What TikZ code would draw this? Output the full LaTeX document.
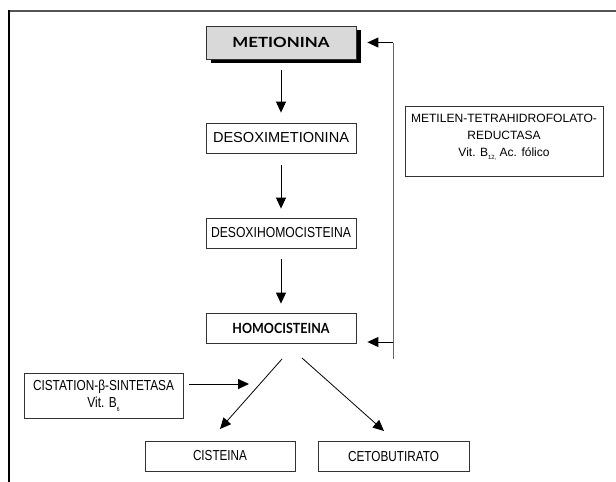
\documentclass[tikz,border=0pt]{standalone}
\usepackage{fontspec}
\usepackage{graphicx}
\setmainfont{Liberation Sans}
\newfontfamily\narrowf[FakeStretch=0.82]{Liberation Sans}
\newfontfamily\boldf{Lato}
\usetikzlibrary{arrows.meta,calc,shadows}
\definecolor{boxc}{HTML}{333333}
\definecolor{framec}{HTML}{555555}
\definecolor{fillc}{HTML}{D9D9D9}
\definecolor{fbc}{HTML}{666666}
\newcommand\lowsub[1]{\raisebox{-0.3em}{\fontsize{6}{6}\selectfont #1}}
\newcommand\fitw[2]{\resizebox{#1}{\height}{#2}}
\begin{document}
\begin{tikzpicture}[x=1pt,y=-1pt,
  box/.style={draw=boxc, line width=0.8pt, minimum width=150pt, minimum height=30pt,
    inner sep=0pt, font=\narrowf\fontsize{14.5}{17}\selectfont, align=center},
  mainbox/.style={box, font=\boldf\bfseries\fontsize{14}{17}\selectfont},
  arr/.style={line width=1pt, -{Triangle[length=11pt,width=10pt]}},
  fbline/.style={draw=fbc, line width=1pt},
]
\useasboundingbox (0,0) rectangle (616,482);
% frame
\draw[framec, line width=2pt] (8,11) -- (616,11);
\draw[black, line width=1.8pt] (9,10) -- (9,482);

% nodes
\node[mainbox, fill=fillc, minimum height=33pt,
  drop shadow={shadow xshift=5pt, shadow yshift=-4pt, fill=black, opacity=1}]
  (met) at (281,42.5) {\fitw{97pt}{METIONINA}};
\node[box] (desm) at (281,138) {\fitw{136pt}{DESOXIMETIONINA}};
\node[box] (desh) at (281,233) {\fitw{140pt}{DESOXIHOMOCISTEINA}};
\node[mainbox] (homo) at (281,328) {\fitw{97pt}{HOMOCISTEINA}};
\node[box, minimum width=198pt, minimum height=70pt,
  font=\fontsize{12}{17}\selectfont] (mthfr) at (504,141)
  {\fitw{186pt}{METILEN-TETRAHIDROFOLATO-}\\REDUCTASA\\Vit. B\lowsub{12,} Ac. fólico\rule[-12pt]{0pt}{12pt}};
\node[box, minimum width=159pt, minimum height=45pt] (cist) at (103.5,395.5)
  {\fitw{141pt}{CISTATION-β-SINTETASA}\\Vit. B\lowsub{6}};
\node[box] (cis) at (220,456) {\fitw{54pt}{CISTEINA}};
\node[box, minimum width=151pt] (ceto) at (393.5,456.5) {\fitw{91pt}{CETOBUTIRATO}};

% main chain
\draw[arr, shorten <=11pt, shorten >=10pt] (met.south) -- (desm.north);
\draw[arr, shorten <=12pt, shorten >=9pt] (desm.south) -- (desh.north);
\draw[arr, shorten <=11pt, shorten >=9pt] (desh.south) -- (homo.north);

% feedback
\coordinate (fbtop) at (393,42.5);
\coordinate (fbbot) at (393,359);
\coordinate (fbh) at (393,342);
\draw[fbline] (fbbot) -- (fbtop);
\draw[arr, shorten >=11pt] (fbtop) -- (met.east);
\draw[arr, shorten >=11pt] (fbh) -- (fbh -| homo.east);

% split
\coordinate (s1) at (282,359);
\coordinate (t1) at (220,429);
\coordinate (s2) at (302,358);
\coordinate (t2) at (384,431);
\draw[arr, line width=0.8pt] (s1) -- (t1);
\draw[arr, line width=0.8pt] (s2) -- (t2);

% enzyme arrow
\coordinate (ca) at (249,384);
\draw[arr, shorten <=6pt] (cist.east |- ca) -- (ca);
\end{tikzpicture}
\end{document}
